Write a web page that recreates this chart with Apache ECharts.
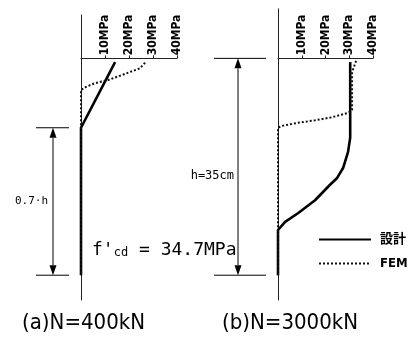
<!DOCTYPE html>
<html><head><meta charset="utf-8">
<script src="https://cdn.jsdelivr.net/npm/echarts@6/dist/echarts.min.js"></script>
<style>html,body{margin:0;padding:0;background:#fff}#c{width:409px;height:340px}</style>
</head><body><div id="c"></div>
<script>
// Tick labels of the stress axes
const tickValues = [10, 20, 30, 40];
const tickLabels = ['10MPa', '20MPa', '30MPa', '40MPa'];
const seriesNames = ['設計', 'FEM'];
// Data as [stress (MPa), depth from top of section (cm)]
const designA = [[14.2, 0.6], [0, 11.2], [0, 35]];
const femA = [[26.7, 0.7], [24.6, 1.6], [20.4, 2.2], [16.3, 2.8], [11.3, 3.5], [5.8, 4.0], [2.1, 4.6], [0, 5.1], [0, 35]];
const designB = [[30.4, 0.6], [30.4, 12.8], [29.5, 15.1], [27.4, 17.7], [24.9, 19.3], [21.9, 20.4], [15.6, 22.9], [8.4, 25.0], [3.0, 26.4], [0, 27.7], [0, 35]];
const femB = [[32.9, 0.4], [31.2, 2.2], [31.2, 8.3], [29.5, 8.8], [22.8, 9.5], [15.6, 10.0], [8.4, 10.4], [1.7, 10.9], [0, 11.2], [0, 35]];
const sectionHeight = 35;      // cm
const neutralDepthA = 11.2;    // cm, top of the 0.7·h zone
const depthMax = 39;           // bottom end of the vertical axis (cm)
const depthMinA = -7, depthMinB = -8;
const captions = ['(a)N=400kN', '(b)N=3000kN'];
const labelA = '0.7·h';
const labelB = 'h=35cm';

const chart = echarts.init(document.getElementById('c'), null, {renderer: 'canvas'});

const grids = [
  {left: 81, width: 96, top: 15, height: 285},
  {left: 278, width: 95, top: 8.8, height: 291.2}
];
const mins = [depthMinA, depthMinB];

function xAx(gi) {
  // place the stress axis at depth 0 (top of the section)
  const off = -grids[gi].height * (0 - mins[gi]) / (depthMax - mins[gi]);
  return {
    type: 'value', gridIndex: gi, min: 0, max: 40, interval: 10, position: 'top', offset: off,
    axisLine: {onZero: false, lineStyle: {color: '#222', width: 1}},
    axisTick: {show: true, length: 3, lineStyle: {color: '#222'}},
    splitLine: {show: false},
    axisLabel: {
      rotate: -90, margin: 3, fontFamily: 'DejaVu Sans Condensed', fontWeight: 'bold',
      fontSize: 12, color: '#000', hideOverlap: false,
      formatter: v => { const i = tickValues.indexOf(v); return i < 0 ? '' : tickLabels[i]; }
    }
  };
}
function yAx(gi) {
  return {
    type: 'value', gridIndex: gi, inverse: true, min: mins[gi], max: depthMax,
    axisLine: {show: true, onZero: true, lineStyle: {color: '#222', width: 1}},
    axisTick: {show: false}, axisLabel: {show: false}, splitLine: {show: false}
  };
}
const solid = {color: '#000', width: 2.6};
const dotted = {color: '#111', width: 2, type: [2, 2]};
const black = {color: '#000'};

chart.setOption({
  animation: false,
  backgroundColor: '#fff',
  grid: grids.map(g => Object.assign({containLabel: false, outerBoundsMode: 'none'}, g)),
  xAxis: [xAx(0), xAx(1)],
  yAxis: [yAx(0), yAx(1)],
  legend: {
    data: seriesNames, orient: 'vertical', left: 313, top: 228,
    itemWidth: 52, itemHeight: 14, itemGap: 11,
    itemStyle: {opacity: 0},
    textStyle: {fontSize: 13, fontWeight: 'bold', color: '#000',
      fontFamily: "'DejaVu Sans Condensed', 'Noto Sans CJK JP'", padding: [0, 0, 0, 4]}
  },
  series: [
    {type: 'line', name: seriesNames[0], xAxisIndex: 0, yAxisIndex: 0, data: designA, symbol: 'none', lineStyle: solid, itemStyle: black, z: 3},
    {type: 'line', name: seriesNames[1], xAxisIndex: 0, yAxisIndex: 0, data: femA, symbol: 'none', lineStyle: dotted, itemStyle: black, z: 4},
    {type: 'line', name: seriesNames[0], xAxisIndex: 1, yAxisIndex: 1, data: designB, symbol: 'none', lineStyle: solid, itemStyle: black, z: 3},
    {type: 'line', name: seriesNames[1], xAxisIndex: 1, yAxisIndex: 1, data: femB, symbol: 'none', lineStyle: dotted, itemStyle: black, z: 4}
  ]
});

function dimArrow(x, x0, x1, yTop, yBot) {
  const s = {stroke: '#000', lineWidth: 1};
  const h = 10, w = 3.5;
  return [
    {type: 'line', shape: {x1: x0, y1: yTop, x2: x1, y2: yTop}, style: s},
    {type: 'line', shape: {x1: x0, y1: yBot, x2: x1, y2: yBot}, style: s},
    {type: 'line', shape: {x1: x, y1: yTop + h, x2: x, y2: yBot - h}, style: s},
    {type: 'polygon', shape: {points: [[x, yTop], [x - w, yTop + h], [x + w, yTop + h]]}, style: {fill: '#000'}},
    {type: 'polygon', shape: {points: [[x, yBot], [x - w, yBot - h], [x + w, yBot - h]]}, style: {fill: '#000'}}
  ];
}

const yATop = chart.convertToPixel({gridIndex: 0}, [0, neutralDepthA])[1];
const yABot = chart.convertToPixel({gridIndex: 0}, [0, sectionHeight])[1];
const yBTop = chart.convertToPixel({gridIndex: 1}, [0, 0])[1];
const yBBot = chart.convertToPixel({gridIndex: 1}, [0, sectionHeight])[1];

const mono = "'DejaVu Sans Mono'";
const cond = "'DejaVu Sans Condensed'";
const graphics = []
  .concat(dimArrow(53, 36, 69, yATop, yABot))
  .concat(dimArrow(238, 214, 266, yBTop, yBBot))
  .concat([
    {type: 'text', x: 48, y: (yATop + yABot) / 2, style: {text: labelA, fontFamily: mono, fontSize: 11, fill: '#000', align: 'right', verticalAlign: 'middle'}},
    {type: 'text', x: 234, y: 176, style: {text: labelB, fontFamily: mono, fontSize: 12, fill: '#000', align: 'right', verticalAlign: 'middle'}},
    {type: 'text', x: 92, y: 250, style: {
      text: "{a|f'}{b|cd}{a| = 34.7MPa}", verticalAlign: 'middle',
      rich: {
        a: {fontFamily: mono, fontSize: 18, fill: '#000'},
        b: {fontFamily: mono, fontSize: 12, fill: '#000', verticalAlign: 'bottom', padding: [4, 0, 0, 0]}
      }}},
    {type: 'text', x: 22, y: 323, style: {text: captions[0], fontFamily: cond, fontSize: 22, fill: '#000', verticalAlign: 'middle'}},
    {type: 'text', x: 222, y: 323, style: {text: captions[1], fontFamily: cond, fontSize: 22, fill: '#000', verticalAlign: 'middle'}}
  ]);
chart.setOption({graphic: graphics});
</script>
</body></html>
